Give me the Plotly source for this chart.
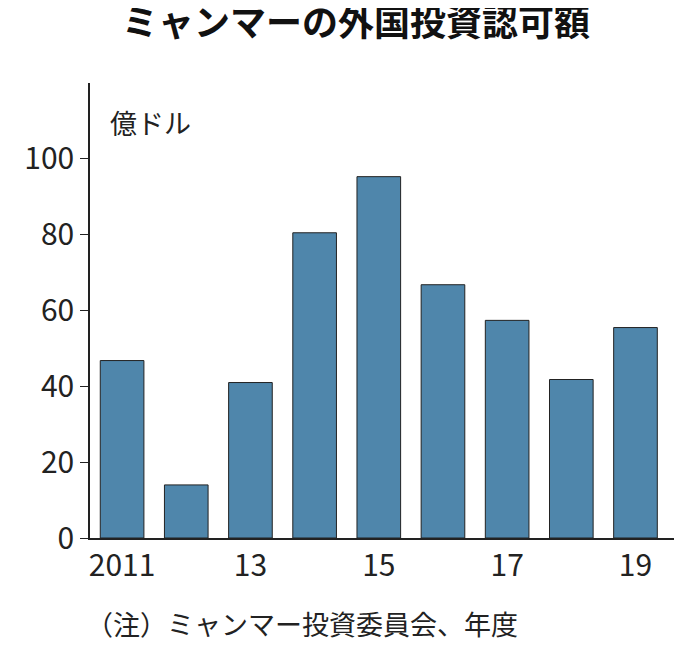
import plotly.graph_objects as go

years = ["2011", "2012", "2013", "2014", "2015", "2016", "2017", "2018", "2019"]
values = [46.8, 14, 41, 80.5, 95.3, 66.8, 57.4, 41.8, 55.5]
tick_vals = ["2011", "2013", "2015", "2017", "2019"]
tick_text = ["2011", "13", "15", "17", "19"]

fig = go.Figure(go.Bar(x=years, y=values, marker_color="#4f86ab",
                       marker_line_color="#222", marker_line_width=1, width=0.68))
W, H = 696, 653
fig.update_layout(
    width=W, height=H, plot_bgcolor="white", paper_bgcolor="white",
    margin=dict(l=82, r=30, t=75, b=123, autoexpand=False), showlegend=False,
    font=dict(family="Noto Sans CJK JP", color="#222"),
    title=dict(text="<b>ミャンマーの外国投資認可額</b>", x=0.5, xanchor="center",
               y=0.995, yanchor="top", font=dict(size=36, color="#111")),
)
fig.update_xaxes(type="category", range=[-0.5, 8.6], tickmode="array",
                 tickvals=tick_vals, ticktext=tick_text, ticks="", automargin=False,
                 showline=True, linecolor="#222", linewidth=1.5,
                 tickfont=dict(size=30, family="Liberation Sans Narrow, Noto Sans CJK JP"))
fig.update_yaxes(range=[0, 120], tickvals=[0, 20, 40, 60, 80, 100], showgrid=False,
                 showline=True, linecolor="#222", linewidth=1.5, ticks="outside",
                 ticklen=8, tickcolor="#222", zeroline=False, automargin=False,
                 tickfont=dict(size=30, family="Liberation Sans Narrow, Noto Sans CJK JP"))
fig.add_annotation(text="億ドル", xref="paper", yref="paper", x=0.03, y=0.96,
                   xanchor="left", yanchor="top", showarrow=False, font=dict(size=27))
fig.add_annotation(text="（注）ミャンマー投資委員会、年度", xref="paper", yref="paper",
                   x=-0.01, y=-0.14, xanchor="left", yanchor="top", showarrow=False,
                   font=dict(size=27))
fig.write_html("out.html")
